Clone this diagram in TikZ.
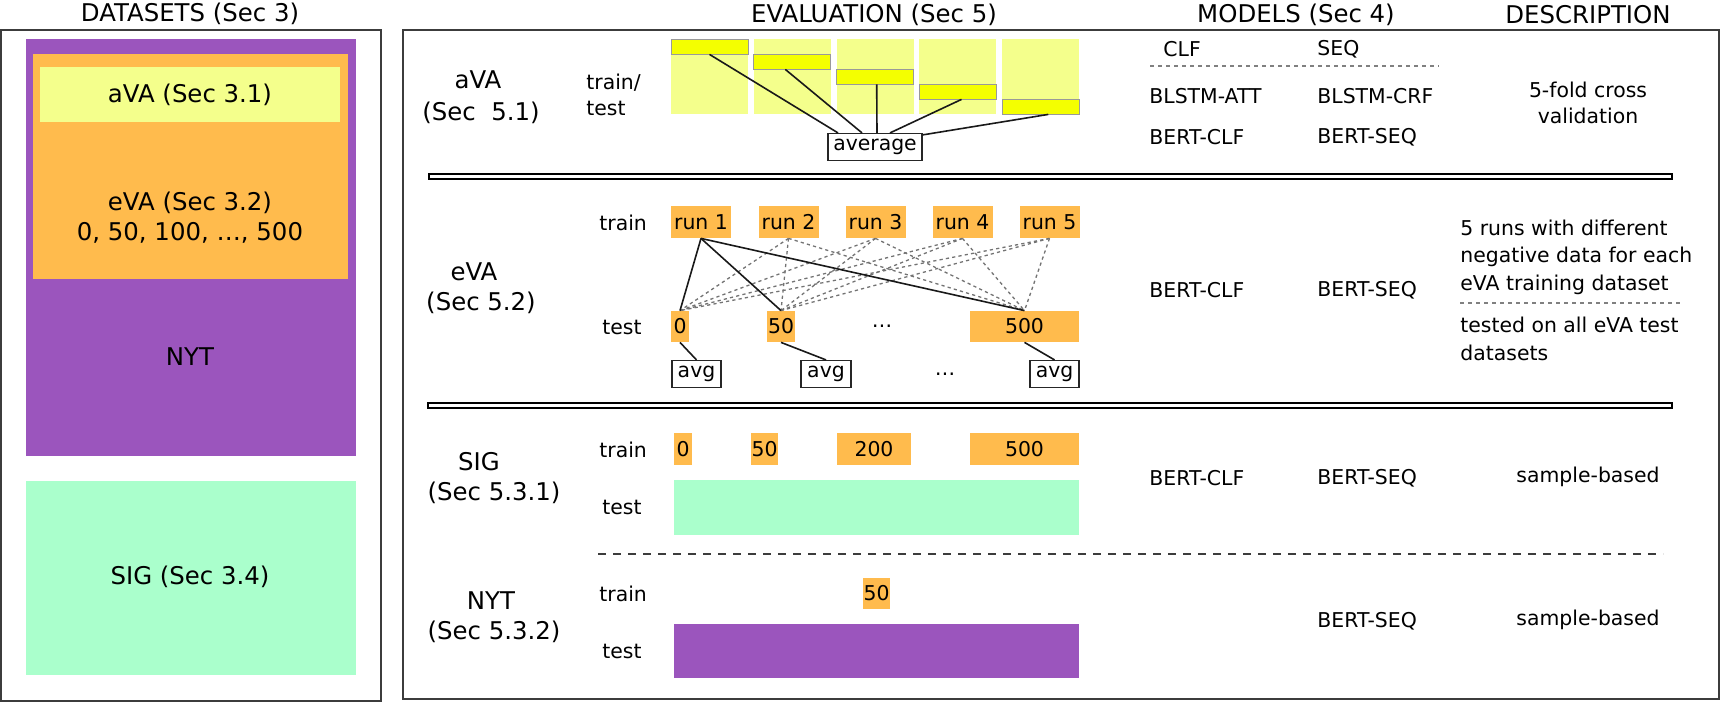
\documentclass[tikz,border=0pt]{standalone}
\usepackage{fontspec}
\setmainfont{DejaVu Sans}
\usetikzlibrary{calc}
\definecolor{cpurple}{RGB}{155,85,189}
\definecolor{corange}{RGB}{255,187,77}
\definecolor{clyellow}{RGB}{244,255,140}
\definecolor{cbyellow}{RGB}{244,255,0}
\definecolor{cgreen}{RGB}{170,255,204}
\definecolor{cframe}{RGB}{60,60,60}
\tikzset{
  txt/.style={font=\fontsize{10.2}{12.8}\selectfont, inner sep=0pt},
  desc/.style={font=\fontsize{10.2}{13.8}\selectfont, inner sep=0pt},
  big/.style={font=\fontsize{12.2}{15}\selectfont, inner sep=0pt},
  obox/.style={fill=corange, inner sep=0pt, font=\fontsize{10.2}{12.8}\selectfont},
  wbox/.style={draw=black!85, line width=0.6pt, fill=white, inner sep=0pt, font=\fontsize{10.2}{12.8}\selectfont},
  ybox/.style={fill=cbyellow, draw=black!40, line width=0.4pt, inner sep=0pt, minimum width=38.5pt, minimum height=7.5pt},
  lbox/.style={fill=clyellow, inner sep=0pt, minimum width=38.5pt, minimum height=37.5pt},
  conn/.style={line width=0.8pt, black!90},
  gdash/.style={black!55, line width=0.65pt, dash pattern=on 1.6pt off 1.6pt},
  frame/.style={draw=cframe, line width=0.8pt},
  dline/.style={draw=black, line width=0.7pt, fill=white},
}
\begin{document}
\begin{tikzpicture}[x=0.5pt,y=-0.5pt]
\useasboundingbox (0,0) rectangle (1724,703);

% ---------- titles
\node[big] (tD) at (190,14) {DATASETS (Sec 3)};
\node[big] (tE) at (874,15) {EVALUATION (Sec 5)};
\node[big] (tM) at (1296,15) {MODELS (Sec 4)};
\node[big] (tX) at (1588,15) {DESCRIPTION};

% ---------- datasets panel
\draw[frame] (1,30) rectangle (381,701);
\fill[cpurple] (26,39) rectangle (356,456);
\fill[corange] (33,54) rectangle (348,279);
\fill[clyellow] (40,67) rectangle (340,122);
\node[big] (dA) at (190,95) {aVA (Sec 3.1)};
\node[big, align=center] (dE) at (190,218) {eVA (Sec 3.2)\\0, 50, 100, …, 500};
\node[big] (dN) at (190,357) {NYT};
\fill[cgreen] (26,481) rectangle (356,675);
\node[big] (dS) at (190,577) {SIG (Sec 3.4)};

% ---------- evaluation panel
\draw[frame] (403,30) rectangle (1719,699);
\draw[dline] (429,174) rectangle (1672,179);
\draw[dline] (428,403) rectangle (1672,408);
\draw[line width=0.75pt, cframe, dash pattern=on 4pt off 3.5pt] (598,554) -- (1663,554);

% section labels
\node[big] (sA1) at (478,80) {aVA};
\node[big] (sA2) at (481,113) {(Sec~~5.1)};
\node[big] (sE1) at (474,272) {eVA};
\node[big] (sE2) at (481,303) {(Sec 5.2)};
\node[big] (sS1) at (479,462) {SIG};
\node[big] (sS2) at (494,493) {(Sec 5.3.1)};
\node[big] (sN1) at (491,601) {NYT};
\node[big] (sN2) at (494,632) {(Sec 5.3.2)};

% ---------- aVA rows
\node[txt, anchor=west, align=left] (rA) at (586,95) {train/\\test};
\foreach \i in {0,...,4} {
  \node[lbox] (l\i) at ({709.5+82.8*\i},76.5) {};
}
\foreach \i in {0,...,4} {
  \node[ybox] (b\i) at ({709.5+82.8*\i},{46.5+15*\i}) {};
}
\node[wbox, minimum width=47pt, minimum height=13.5pt] (avg) at (875,147) {average};
\draw[conn] (b0.south) -- ([xshift=-18.5pt]avg.north);
\draw[conn] ([xshift=-3.5pt]b1.south) -- ([xshift=-6.5pt]avg.north);
\draw[conn] ([xshift=0.8pt]b2.south) -- ([xshift=1pt]avg.north);
\draw[conn] ([xshift=1.8pt]b3.south) -- ([xshift=7.5pt]avg.north);
\draw[conn] ([xshift=3.8pt]b4.south) -- ([yshift=-1pt]avg.north east);

% ---------- eVA rows
\node[txt, anchor=west] (rE1) at (599,223) {train};
\node[txt, anchor=west] (rE2) at (602,327) {test};
\foreach \i/\x in {1/701,2/788.5,3/875.5,4/962.5,5/1049.5} {
  \node[obox, minimum width=30pt, minimum height=16pt] (run\i) at (\x,222) {run \i};
}
\node[obox, minimum width=9pt, minimum height=15.5pt] (t0) at (680,326.5) {0};
\node[obox, minimum width=14pt, minimum height=15.5pt] (t50) at (781,326.5) {50};
\node[obox, minimum width=54.5pt, minimum height=15.5pt] (t500) at (1024.5,326.5) {500};
\node[txt] (tdots) at (882,326) {…};
\node[wbox, minimum width=24.5pt, minimum height=13.5pt] (a0) at (696.5,374) {avg};
\node[wbox, minimum width=25pt, minimum height=13.5pt] (a50) at (826,374) {avg};
\node[wbox, minimum width=24.5pt, minimum height=13.5pt] (a500) at (1054.5,374) {avg};
\node[txt] (adots) at (945,374) {…};
\foreach \r in {2,3,4,5} {
  \foreach \t in {t0,t50,t500} {
    \draw[gdash] (run\r.south) -- (\t.north);
  }
}
\foreach \t in {t0,t50,t500} {
  \draw[conn] (run1.south) -- (\t.north);
}
\draw[conn] (t0.south) -- (a0.north);
\draw[conn] (t50.south) -- (a50.north);
\draw[conn] (t500.south) -- (a500.north);

% ---------- SIG rows
\node[txt, anchor=west] (rS1) at (599,450) {train};
\node[txt, anchor=west] (rS2) at (602,507) {test};
\node[obox, minimum width=9pt, minimum height=16pt] (s0) at (683,449) {0};
\node[obox, minimum width=13.5pt, minimum height=16pt] (s50) at (764.5,449) {50};
\node[obox, minimum width=37pt, minimum height=16pt] (s200) at (874,449) {200};
\node[obox, minimum width=54.5pt, minimum height=16pt] (s500) at (1024.5,449) {500};
\fill[cgreen] (674,480) rectangle (1079,535);

% ---------- NYT rows
\node[txt, anchor=west] (rN1) at (599,594) {train};
\node[txt, anchor=west] (rN2) at (602,651) {test};
\node[obox, minimum width=13.5pt, minimum height=15.5pt] (n50) at (876.5,593.5) {50};
\fill[cpurple] (674,624) rectangle (1079,678);

% ---------- models
\node[txt, anchor=west] (mC) at (1163,49) {CLF};
\node[txt, anchor=west] (mS) at (1317,49) {SEQ};
\draw[gray, line width=0.6pt, dash pattern=on 2pt off 2pt] (1150,66) -- (1439,66);
\node[txt, anchor=west] (m1) at (1149,96) {BLSTM-ATT};
\node[txt, anchor=west] (m2) at (1317,96) {BLSTM-CRF};
\node[txt, anchor=west] (m3) at (1149,137) {BERT-CLF};
\node[txt, anchor=west] (m4) at (1317,137) {BERT-SEQ};
\node[txt, anchor=west] (m5) at (1149,290) {BERT-CLF};
\node[txt, anchor=west] (m6) at (1317,290) {BERT-SEQ};
\node[txt, anchor=west] (m7) at (1149,478) {BERT-CLF};
\node[txt, anchor=west] (m8) at (1317,478) {BERT-SEQ};
\node[txt, anchor=west] (m9) at (1317,621) {BERT-SEQ};

% ---------- descriptions
\node[txt, align=center] (d1) at (1588,103) {5-fold cross\\validation};
\node[desc, align=left, anchor=west] (d2) at (1460,257) {5 runs with different\\negative data for each\\eVA training dataset};
\draw[gray, line width=0.6pt, dash pattern=on 2pt off 2pt] (1460,303) -- (1682,303);
\node[desc, align=left, anchor=west] (d3) at (1460,339) {tested on all eVA test\\datasets};
\node[txt] (d4) at (1588,477) {sample-based};
\node[txt] (d5) at (1588,620) {sample-based};
\end{tikzpicture}
\end{document}
